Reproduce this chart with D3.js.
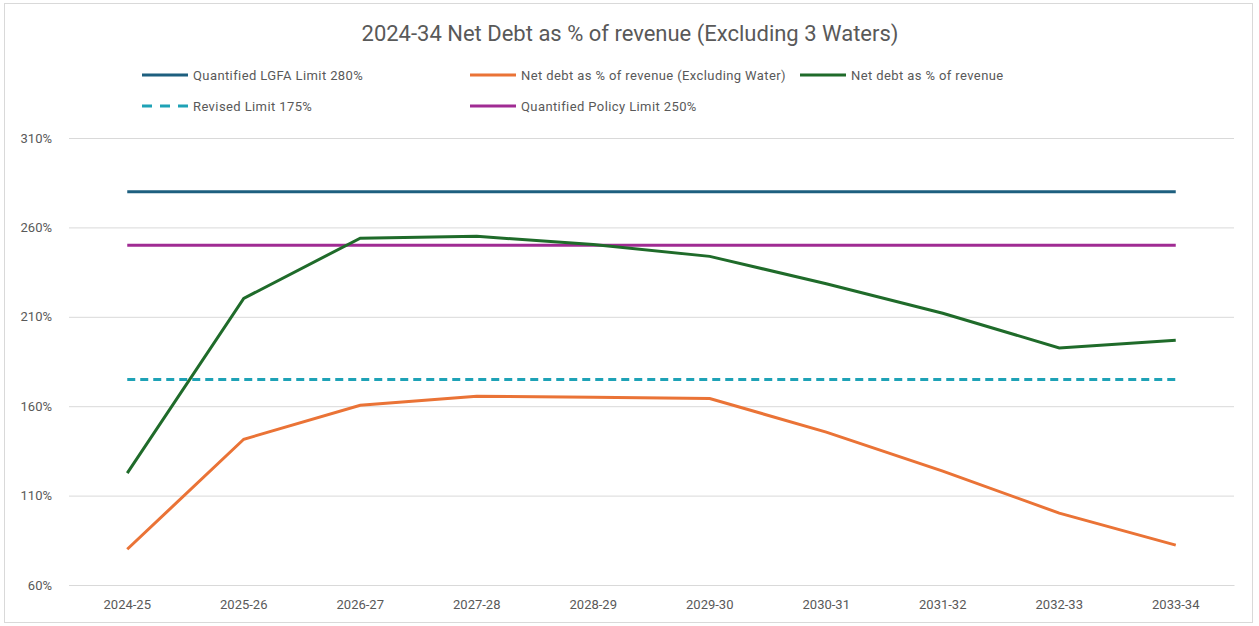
<!DOCTYPE html>
<html>
<head>
<meta charset="utf-8">
<script src="https://cdn.jsdelivr.net/npm/d3@7"></script>
<style>
  body { margin: 0; background: #fff; }
  svg text { font-family: "Roboto", "Liberation Sans", sans-serif; fill: #595959; }
</style>
</head>
<body>
<svg id="chart" width="1259" height="626"></svg>
<script>
// chart data
var years = ['2024-25', '2025-26', '2026-27', '2027-28', '2028-29',
             '2029-30', '2030-31', '2031-32', '2032-33', '2033-34'];
var lgfaLimit = [280, 280, 280, 280, 280, 280, 280, 280, 280, 280];
var policyLimit = [250, 250, 250, 250, 250, 250, 250, 250, 250, 250];
var revisedLimit = [175, 175, 175, 175, 175, 175, 175, 175, 175, 175];
var netDebtExWater = [80, 141.5, 160.5, 165.5, 165, 164.3, 145.5, 123.7, 100.2, 82.3];
var netDebt = [122.6, 220.3, 254, 255, 250.5, 243.8, 228.5, 212, 192.6, 196.9];
var yTicks = [60, 110, 160, 210, 260, 310];

var series = [
    { name: 'Quantified LGFA Limit 280%', values: lgfaLimit, color: '#1d5f7f', dash: null },
    { name: 'Net debt as % of revenue (Excluding Water)', values: netDebtExWater, color: '#ea7336', dash: null },
    { name: 'Net debt as % of revenue', values: netDebt, color: '#1f6b2a', dash: null },
    { name: 'Revised Limit 175%', values: revisedLimit, color: '#1ea2b6', dash: '8,5' },
    { name: 'Quantified Policy Limit 250%', values: policyLimit, color: '#a02b93', dash: null }
];

var svg = d3.select('#chart');
var margin = { left: 69, right: 25, top: 138, bottom: 41 };
var W = 1259, H = 626;

// outer frame
svg.append('rect')
    .attr('x', 4.5).attr('y', 3.5)
    .attr('width', 1248).attr('height', 619)
    .attr('fill', '#fff').attr('stroke', '#d9d9d9');

var x = d3.scaleBand().domain(years).range([margin.left, W - margin.right]);
var y = d3.scaleLinear().domain([60, 310]).range([H - margin.bottom, margin.top]);

// title
svg.append('text')
    .attr('x', 630).attr('y', 41)
    .attr('text-anchor', 'middle')
    .style('font-size', '22px')
    .text('2024-34 Net Debt as % of revenue (Excluding 3 Waters)');

// gridlines + y labels
var yAxis = d3.axisLeft(y).tickValues(yTicks)
    .tickSize(-(W - margin.left - margin.right))
    .tickFormat(function (d) { return d + '%'; })
    .tickPadding(17);
var gy = svg.append('g').attr('transform', 'translate(' + margin.left + ',0)').call(yAxis);
gy.select('.domain').remove();
gy.selectAll('line').attr('stroke', '#d9d9d9');
gy.selectAll('text').style('font-size', '13px').attr('fill', '#595959');

// x axis labels
var xAxis = d3.axisBottom(x).tickSize(0).tickPadding(15);
var gx = svg.append('g').attr('transform', 'translate(0,' + (H - margin.bottom) + ')').call(xAxis);
gx.select('.domain').attr('stroke', '#d9d9d9');
gx.selectAll('text').style('font-size', '13px').attr('fill', '#595959');

// lines
var line = d3.line()
    .x(function (d, i) { return x(years[i]) + x.bandwidth() / 2; })
    .y(function (d) { return y(d); });

var drawOrder = [0, 4, 3, 2, 1];
drawOrder.forEach(function (k) {
    var s = series[k];
    svg.append('path')
        .attr('d', line(s.values))
        .attr('fill', 'none')
        .attr('stroke', s.color)
        .attr('stroke-width', 3)
        .attr('stroke-dasharray', s.dash);
});

// legend
var legendPos = [[142, 75], [470, 75], [800, 75], [142, 106], [470, 106]];
series.forEach(function (s, i) {
    var g = svg.append('g').attr('transform', 'translate(' + legendPos[i][0] + ',' + legendPos[i][1] + ')');
    g.append('line')
        .attr('x1', 0).attr('x2', 46)
        .attr('y1', 0).attr('y2', 0)
        .attr('stroke', s.color)
        .attr('stroke-width', 3)
        .attr('stroke-dasharray', s.dash ? '10,8' : null);
    g.append('text')
        .attr('x', 51).attr('y', 4.5)
        .style('font-size', '13px')
        .style('letter-spacing', '0.4px')
        .text(s.name);
});
</script>
</body>
</html>
